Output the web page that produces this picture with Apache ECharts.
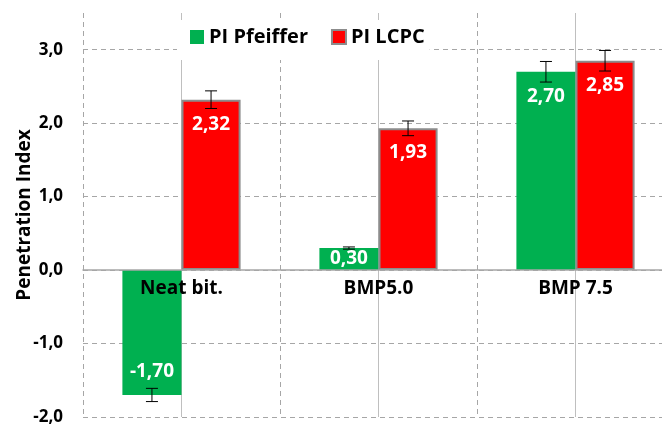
<!DOCTYPE html>
<html>
<head>
<meta charset="utf-8">
<script src="https://cdn.jsdelivr.net/npm/echarts@6/dist/echarts.min.js"></script>
<style>
  html, body { margin: 0; padding: 0; background: #fff; }
  #main { width: 662px; height: 426px; }
</style>
</head>
<body>
<div id="main"></div>
<script>
// data
const categories = ['Neat bit.', 'BMP5.0', 'BMP 7.5'];
const pfeiffer = [-1.70, 0.30, 2.70];
const lcpc = [2.32, 1.93, 2.85];
const pfeifferErr = [0.09, 0.015, 0.14];
const lcpcErr = [0.12, 0.10, 0.14];
const yMin = -2, yMax = 3.5;

const FONT = 'Open Sans';
const fmt = v => v.toFixed(2).replace('.', ',');

const gridTop = 13, gridBottom = 9;
const gridH = 426 - gridTop - gridBottom;
// category axis sits on the zero line
const zeroOffset = -gridH * (0 - yMin) / (yMax - yMin);

// label placement: top of bar for tall positive, bar end for negative, middle for short
const barData = vals => vals.map(v => {
  let label;
  if (v < 0) label = { position: 'insideBottom', distance: 14 };
  else if (v < 0.5) label = { position: 'inside' };
  else label = { position: 'insideTop', distance: 15 };
  return { value: v, label: label };
});

const errData = (vals, errs) => vals.map((v, i) => [i, v - errs[i], v + errs[i]]);

const errorBars = (name, vals, errs, side) => ({
  name: name + ' err',
  type: 'custom',
  xAxisIndex: 0,
  z: 5,
  silent: true,
  data: errData(vals, errs),
  renderItem: function (params, api) {
    const band = api.size([1, 0])[0];
    const off = side * band * 0.15;
    const lo = api.coord([api.value(0), api.value(1)]);
    const hi = api.coord([api.value(0), api.value(2)]);
    const x = lo[0] + off;
    const cap = 6;
    const style = { stroke: '#000', lineWidth: 1 };
    return {
      type: 'group',
      children: [
        { type: 'line', shape: { x1: x, y1: lo[1], x2: x, y2: hi[1] }, style: style },
        { type: 'line', shape: { x1: x - cap, y1: lo[1], x2: x + cap, y2: lo[1] }, style: style },
        { type: 'line', shape: { x1: x - cap, y1: hi[1], x2: x + cap, y2: hi[1] }, style: style }
      ]
    };
  }
});

let myChart = echarts.init(document.getElementById('main'));
myChart.setOption({
  animation: false,
  backgroundColor: '#fff',
  grid: { left: 83, right: -12, top: gridTop, bottom: gridBottom, containLabel: false, outerBoundsMode: 'none' },
  legend: {
    top: 20,
    left: 177,
    data: ['PI Pfeiffer', 'PI LCPC'],
    icon: 'rect',
    itemWidth: 14,
    itemHeight: 14,
    itemGap: 23,
    padding: [7, 5, 13, 13],
    backgroundColor: '#fff',
    z: 8,
    textStyle: { fontFamily: FONT, fontWeight: 'bold', fontSize: 20, color: '#000' }
  },
  xAxis: [
    {
      type: 'category',
      data: categories,
      position: 'bottom',
      offset: zeroOffset,
      z: 10,
      axisLine: { onZero: false, lineStyle: { color: '#a6a6a6', width: 1.5 } },
      axisTick: { show: false },
      splitLine: { show: false },
      axisLabel: { margin: 9, fontFamily: FONT, fontWeight: 'bold', fontSize: 19, color: '#000' }
    },
    {
      type: 'category',
      data: categories,
      position: 'top',
      axisLine: { show: false, onZero: false },
      axisLabel: { show: false },
      axisTick: {
        show: true, inside: true, alignWithLabel: true, length: gridH,
        lineStyle: { color: '#bfbfbf', width: 1 }
      },
      splitLine: { show: true, lineStyle: { color: '#a6a6a6', type: [5, 4], width: 1 } }
    }
  ],
  yAxis: {
    type: 'value',
    min: yMin,
    max: yMax,
    interval: 1,
    name: 'Penetration Index',
    nameLocation: 'middle',
    nameGap: 49,
    nameMoveOverlap: false,
    nameTextStyle: { fontFamily: FONT, fontWeight: 'bold', fontSize: 19, color: '#000' },
    axisLine: { show: false },
    axisTick: { show: true, inside: true, length: 5, lineStyle: { color: '#a6a6a6' } },
    axisLabel: {
      margin: 20,
      showMaxLabel: false,
      fontFamily: FONT, fontWeight: 'bold', fontSize: 17, color: '#000',
      formatter: v => v.toFixed(1).replace('.', ',')
    },
    splitLine: { show: true, showMaxLine: false, lineStyle: { color: '#a6a6a6', type: [5, 4], width: 1 } }
  },
  series: [
    {
      name: 'PI Pfeiffer',
      type: 'bar',
      barWidth: '30%',
      barGap: '0%',
      itemStyle: { color: '#00b050' },
      label: {
        show: true, color: '#fff', fontFamily: FONT, fontWeight: 'bold', fontSize: 19,
        formatter: p => fmt(p.value)
      },
      data: barData(pfeiffer)
    },
    {
      name: 'PI LCPC',
      type: 'bar',
      barWidth: '30%',
      barGap: '0%',
      itemStyle: { color: '#ff0000', borderColor: '#8c8c8c', borderWidth: 2 },
      label: {
        show: true, color: '#fff', fontFamily: FONT, fontWeight: 'bold', fontSize: 19,
        formatter: p => fmt(p.value)
      },
      data: barData(lcpc)
    },
    errorBars('PI Pfeiffer', pfeiffer, pfeifferErr, -1),
    errorBars('PI LCPC', lcpc, lcpcErr, 1)
  ]
});
</script>
</body>
</html>
